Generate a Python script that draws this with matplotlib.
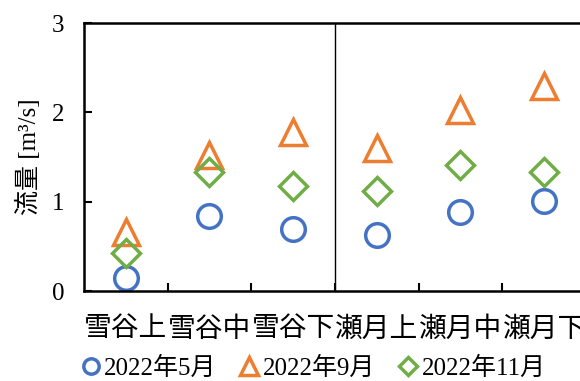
import matplotlib.pyplot as plt
import numpy as np

plt.rcParams['font.family'] = ['Liberation Serif', 'Noto Sans CJK JP']

# data
sites = ['雪谷上', '雪谷中', '雪谷下', '瀬月上', '瀬月中', '瀬月下']
may = [0.15, 0.84, 0.69, 0.63, 0.88, 1.01]
sep = [0.66, 1.52, 1.78, 1.60, 2.03, 2.29]
nov = [0.43, 1.33, 1.18, 1.12, 1.41, 1.33]

fig = plt.figure(figsize=(5.8, 3.81), dpi=100)
ax = fig.add_axes([0.1448, 0.2362, 0.8655, 0.7034])

x = np.arange(len(sites))
kw = dict(linestyle='none', markerfacecolor='none', markeredgewidth=2.5)
ax.plot(x, may, marker='o', markersize=17, markeredgecolor='#4472C4', label='2022年5月', **kw)
ax.plot(x, sep, marker='^', markersize=19, markeredgecolor='#ED7D31', label='2022年9月', **kw)
ax.plot(x, nov, marker='D', markersize=14, markeredgecolor='#70AD47', label='2022年11月', **kw)

ax.axvline(2.5, color='black', lw=1)

ax.set_xlim(-0.5, 5.5)
ax.set_ylim(0, 3)
ax.set_yticks([0, 1, 2, 3])
ax.set_xticks(x + 0.5, minor=False)
ax.set_xticks(x, minor=True)
ax.set_xticklabels([])
ax.set_xticklabels(sites, minor=True)
ax.tick_params(axis='x', which='minor', length=0, pad=19, labelsize=20)
ax.tick_params(axis='x', which='major', direction='in', length=6, width=1.5)
ax.tick_params(axis='y', direction='in', length=6, width=1.5, pad=14, labelsize=18)
for s in ax.spines.values():
    s.set_linewidth(1.8)

ax.set_ylabel('流量 [m³/s]', fontsize=18, labelpad=8)

fig.legend(loc='center', bbox_to_anchor=(0.54, 0.034), ncol=3, frameon=False,
           fontsize=18, markerscale=0.65, handlelength=0.8, handletextpad=0.15,
           columnspacing=0.9, borderpad=0)

fig.savefig('out.png', dpi=100)
